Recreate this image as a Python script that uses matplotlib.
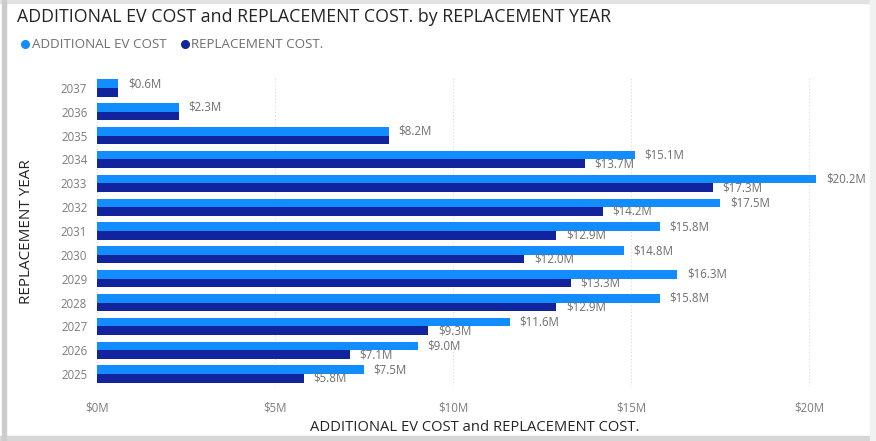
import matplotlib.pyplot as plt
import matplotlib.patches as mpatches
from matplotlib.lines import Line2D
import numpy as np

plt.rcParams['font.family'] = ['Open Sans', 'DejaVu Sans']

# data, top to bottom
years = ['2037', '2036', '2035', '2034', '2033', '2032', '2031',
         '2030', '2029', '2028', '2027', '2026', '2025']
ev_cost = [0.6, 2.3, 8.2, 15.1, 20.2, 17.5, 15.8, 14.8, 16.3, 15.8, 11.6, 9.0, 7.5]
repl_cost = [0.6, 2.3, 8.2, 13.7, 17.3, 14.2, 12.9, 12.0, 13.3, 12.9, 9.3, 7.1, 5.8]
x_ticks = [0, 5, 10, 15, 20]

c_ev = '#118DFF'
c_repl = '#12239E'
c_text = '#6f6e6c'
c_tick = '#7d7c7a'
c_title = '#252423'

fig = plt.figure(figsize=(8.76, 4.41), dpi=100)
fig.patch.set_facecolor('white')

# card frame
fig.patches.append(mpatches.Rectangle((0, 0), 1, 0.012, transform=fig.transFigure,
                                      color='#d6d6d6', zorder=0))
fig.patches.append(mpatches.Rectangle((0, 0.993), 1, 0.007, transform=fig.transFigure,
                                      color='#e2e2e2', zorder=0))
fig.patches.append(mpatches.Rectangle((0.002, 0), 0.005, 1, transform=fig.transFigure,
                                      color='#cccccc', zorder=0))
fig.patches.append(mpatches.Rectangle((0.993, 0), 0.007, 1, transform=fig.transFigure,
                                      color='#eef2f0', zorder=0))

ax = fig.add_axes([97 / 876, (441 - 386) / 441, 755 / 876, 310 / 441])
ax.set_facecolor('none')

y = np.arange(len(years))
h = 0.36
ax.barh(y - h / 2, ev_cost, height=h, color=c_ev, zorder=3)
ax.barh(y + h / 2, repl_cost, height=h, color=c_repl, zorder=3)

for i in range(len(years)):
    ax.text(ev_cost[i] + 0.27, y[i] - h / 2, f'${ev_cost[i]:.1f}M',
            fontsize=8.3, color=c_text, va='center', ha='left', zorder=4)
    # equal values share one label
    if ev_cost[i] != repl_cost[i]:
        ax.text(repl_cost[i] + 0.27, y[i] + h / 2, f'${repl_cost[i]:.1f}M',
                fontsize=8.3, color=c_text, va='center', ha='left', zorder=4)

ax.set_ylim(len(years) - 0.5, -0.5)
ax.set_xlim(0, 21.2)
ax.set_yticks(y)
ax.set_yticklabels(years)
ax.set_xticks(x_ticks)
ax.set_xticklabels([f'${v}M' for v in x_ticks])
ax.tick_params(axis='both', length=0, labelsize=8.3, labelcolor=c_tick)
ax.tick_params(axis='y', pad=7)
ax.tick_params(axis='x', pad=11)
ax.grid(axis='x', color='#d8d8d8', linestyle=(0, (1, 2)), linewidth=0.8, zorder=0)
for s in ax.spines.values():
    s.set_visible(False)

ax.set_xlabel('ADDITIONAL EV COST and REPLACEMENT COST.', fontsize=10.6, color=c_title, labelpad=4)
fig.text(27 / 876, (441 - 232) / 441, 'REPLACEMENT YEAR', rotation=90,
         fontsize=11, color=c_title, ha='center', va='center')

fig.text(17 / 876, (441 - 17) / 441, 'ADDITIONAL EV COST and REPLACEMENT COST. by REPLACEMENT YEAR',
         fontsize=12.8, color=c_title, ha='left', va='center')

handles = [Line2D([], [], marker='o', linestyle='', color=c_ev, markersize=5.5),
           Line2D([], [], marker='o', linestyle='', color=c_repl, markersize=5.5)]
fig.legend(handles, ['ADDITIONAL EV COST', 'REPLACEMENT COST.'], loc='center left',
           bbox_to_anchor=(14 / 876, (441 - 45) / 441), ncol=2, frameon=False,
           fontsize=9.6, labelcolor=c_text, handletextpad=0.05, columnspacing=0.9,
           borderaxespad=0, handlelength=0.9)

fig.savefig('out.png', dpi=100)
